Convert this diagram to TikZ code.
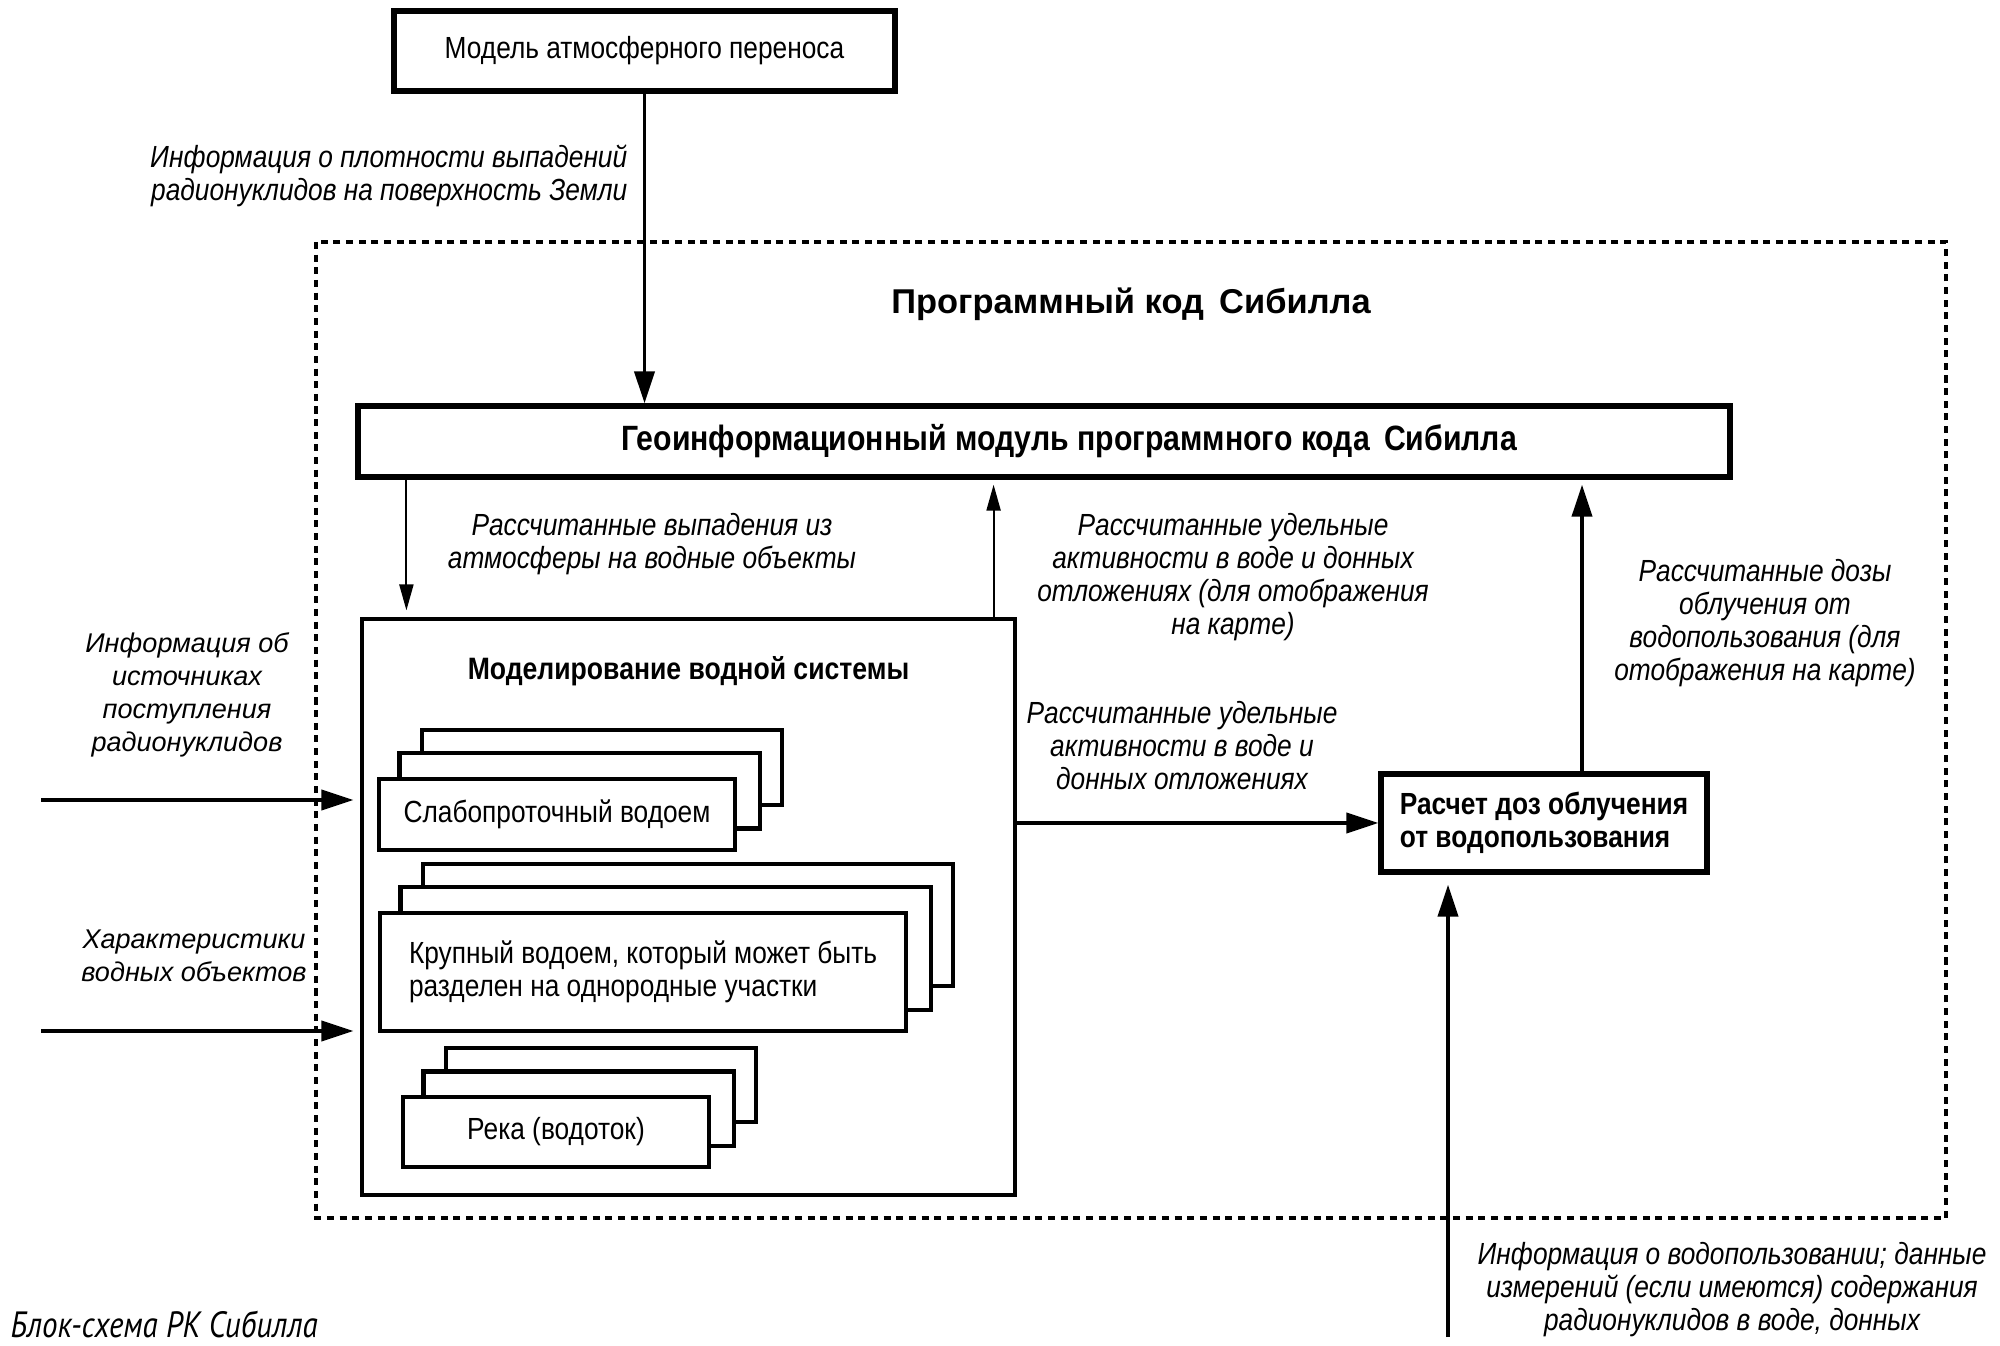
\documentclass[tikz,border=0pt]{standalone}
\usepackage{fontspec}
\setmainfont{Liberation Sans}
\newfontfamily\cond[FakeStretch=0.86]{Liberation Sans}
\newfontfamily\capfont[FakeStretch=0.85]{PT Sans}
\usepackage{tikz}
\usetikzlibrary{arrows.meta,positioning,backgrounds}
\tikzset{
  blk/.style={draw,line width=1.5pt,fill=white,inner sep=0pt,align=center,font=\cond\fontsize{8.7}{9.4}\selectfont},
  sub/.style={draw,line width=1.2pt,fill=white,inner sep=0pt,align=center,font=\cond\fontsize{8.7}{9.4}\selectfont},
  lbl/.style={font=\cond\itshape\fontsize{8.7}{9.4}\selectfont,align=center,inner sep=0pt},
  slbl/.style={font=\itshape\fontsize{7.7}{9.4}\selectfont,align=center,inner sep=0pt},
  fat/.style={-{Triangle[length=3.2mm,width=2mm]},line width=1.1pt},
  slim/.style={-{Triangle[length=2.6mm,width=1.4mm]},line width=0.6pt},
}
\newcommand{\stackback}[1]{%
  \begin{scope}[on background layer]
    \foreach \k in {2,1}
      \draw[line width=1.2pt,fill=white] ([shift={(\k*0.225,\k*0.235)}]#1.south west) rectangle ([shift={(\k*0.225,\k*0.235)}]#1.north east);
  \end{scope}}

\begin{document}
\begin{tikzpicture}
  \useasboundingbox (0,0) rectangle (20,-13.46);

  % outer frame of the code
  \draw[line width=1.4pt,dash pattern=on 2pt off 1.6pt] (3.16,-2.42) rectangle (19.46,-12.18);
  \node[font=\bfseries\fontsize{9.8}{12}\selectfont] (title) at (11.31,-3.04) {Программный код\, Сибилла};

  % blocks
  \node[blk,minimum width=5.01cm,minimum height=0.8cm] (atm) at (6.445,-0.51) {Модель атмосферного переноса};
  \node[blk,minimum width=13.72cm,minimum height=0.71cm,font=\cond\bfseries\fontsize{10}{12}\selectfont] (geo) at (10.44,-4.415) {\hspace*{0.5cm}Геоинформационный модуль программного кода\, Сибилла};
  \node[draw,line width=0.9pt,minimum width=6.53cm,minimum height=5.76cm,inner sep=0pt] (water) at (6.885,-9.07) {};
  \node[font=\cond\bfseries\fontsize{8.8}{10}\selectfont,below=0.27cm of water.north] (wtitle) {Моделирование водной системы};
  \node[blk,minimum width=3.26cm,minimum height=0.98cm,align=left,font=\cond\bfseries\fontsize{8.7}{9.4}\selectfont] (dose) at (15.44,-8.23) {Расчет доз облучения\\от водопользования};

  % water body stacks
  \node[sub,minimum width=3.56cm,minimum height=0.71cm] (lake) at (5.57,-8.145) {Слабопроточный водоем};
  \node[sub,minimum width=5.26cm,minimum height=1.18cm,align=left] (big) at (6.43,-9.72) {Крупный водоем, который может быть\\разделен на однородные участки};
  \node[sub,minimum width=3.06cm,minimum height=0.70cm] (river) at (5.56,-11.32) {Река (водоток)};
  \stackback{lake}
  \stackback{big}
  \stackback{river}

  % connectors
  \coordinate (wIn) at ([xshift=0.46cm]water.north west);
  \coordinate (wOut) at ([xshift=-0.23cm]water.north east);
  \coordinate (doseUp) at ([xshift=0.38cm]dose.north);
  \coordinate (src1) at (0.41,-8.0);
  \coordinate (src2) at (0.41,-10.31);
  \coordinate (useIn) at (14.48,-13.37);
  \draw[fat] (atm.south) -- (atm.south |- geo.north);
  \draw[slim] (wIn |- geo.south) -- ([yshift=0.07cm]wIn);
  \draw[slim] (wOut) -- ([yshift=-0.05cm]wOut |- geo.south);
  \draw[fat] (doseUp) -- ([yshift=-0.05cm]doseUp |- geo.south);
  \draw[fat] (dose.west -| water.east) -- (dose.west);
  \draw[fat] (useIn) -- ([yshift=-0.1cm]useIn |- dose.south);
  \draw[fat] (src1) -- ([xshift=-0.07cm]src1 -| water.west);
  \draw[fat] (src2) -- ([xshift=-0.07cm]src2 -| water.west);

  % labels
  \node[lbl,anchor=east,align=right] (l1) at (6.28,-1.76) {Информация о плотности выпадений\\радионуклидов на поверхность Земли};
  \node[lbl] (l2) at (6.52,-5.44) {Рассчитанные выпадения из\\атмосферы на водные объекты};
  \node[lbl] (l3) at (12.33,-5.77) {Рассчитанные удельные\\активности в воде и донных\\отложениях (для отображения\\на карте)};
  \node[lbl] (l4) at (17.65,-6.23) {Рассчитанные дозы\\облучения от\\водопользования (для\\отображения на карте)};
  \node[lbl] (l5) at (11.82,-7.46) {Рассчитанные удельные\\активности в воде и\\донных отложениях};
  \node[lbl] (l6) at (17.32,-12.90) {Информация о водопользовании; данные\\измерений (если имеются) содержания\\радионуклидов в воде, донных};
  \node[slbl] (l7) at (1.87,-6.95) {Информация об\\источниках\\поступления\\радионуклидов};
  \node[slbl] (l8) at (1.94,-9.555) {Характеристики\\водных объектов};
  \node[font=\capfont\itshape\fontsize{10.4}{12}\selectfont,anchor=west,inner sep=0pt] (cap) at (0.10,-13.24) {Блок-схема РК Сибилла};
\end{tikzpicture}
\end{document}
